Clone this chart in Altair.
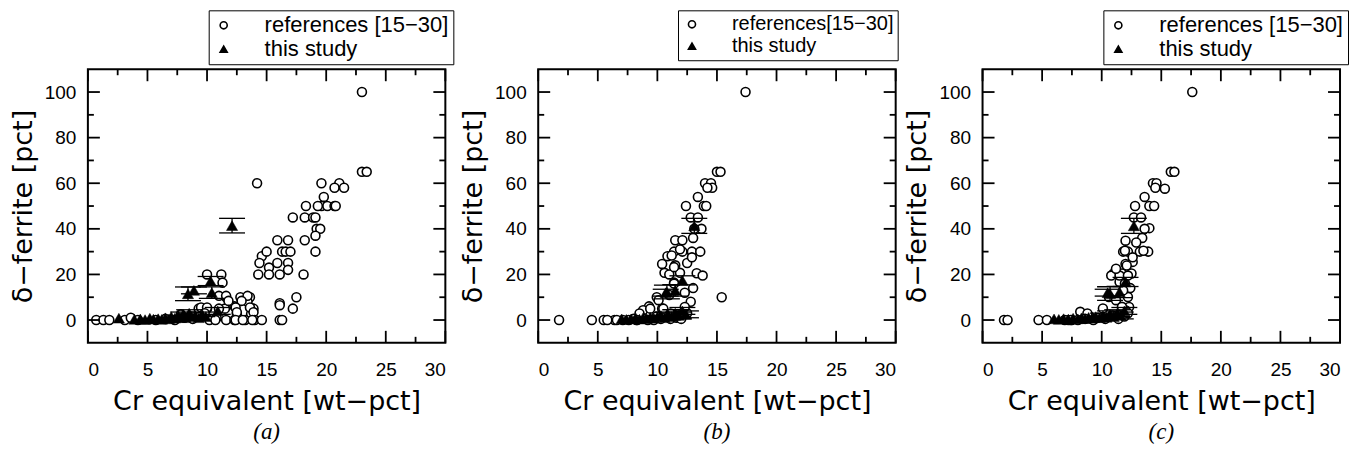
import altair as alt
import pandas as pd

# ---------------- data ----------------
# panel (a)
ref_a_x = [23.0, 23.0, 23.4, 14.2, 19.6, 21.1, 20.7, 21.5, 19.8, 19.6, 20.1, 20.7, 20.8, 18.3, 19.3,
           17.2, 18.2, 18.9, 19.1, 19.2, 19.5, 15.9, 16.8, 18.2, 19.1, 14.6, 15.0, 16.3, 16.6, 17.0,
           19.1, 14.4, 15.2, 15.9, 16.8, 16.8, 14.3, 15.2, 16.1, 18.1, 10.0, 11.2, 11.3, 16.1, 17.5,
           17.2, 16.1, 16.3, 12.8, 13.6, 13.4, 12.3, 11.6, 13.9, 13.7, 12.5, 11.5, 10.0, 9.3, 11.0,
           11.0, 11.6, 11.8, 13.4, 12.9, 12.4, 13.6, 13.9, 12.5, 9.5, 10.0, 11.6, 12.3, 13.2, 14.0,
           14.6, 16.1, 3.1, 0.7, 1.3, 1.8, 3.6, 4.2, 5.7, 6.5, 7.3, 8.1, 8.8, 9.4, 10.2, 10.8, 10.7,
           12.4, 13.0, 13.8, 7.8, 9.8]
ref_a_y = [100, 65, 65, 60, 60, 60, 58, 58, 54, 50, 50, 50, 50, 50, 50,
           45, 45, 45, 45, 40, 40, 35, 35, 35, 37, 28, 30, 30, 30, 30,
           30, 25, 23, 25, 25, 22, 20, 20, 20, 20, 20, 20, 16.4, 7.4, 10,
           5, 0, 0, 10, 10, 8, 6, 10, 5, 2.7, 2.7, 5, 5, 5, 5,
           10.6, 10.6, 8.4, 10.6, 8.4, 5.5, 5.5, 3.4, 3.4, 5.5, 5.5, 0, 0, 0, 0,
           0, 6.5, 0, 0, 0, 0, 1, 0, 0, 0.5, 0, 1, 0.5, 1.5, 0, 1, 0,
           0, 0, 0, 2.5, 3]
st_a_x = [2.6, 3.9, 4.4, 4.8, 5.2, 5.5, 5.9, 6.2, 6.5, 6.8, 7.0, 7.3, 7.6, 7.8, 8.0, 8.2, 8.5,
          8.7, 9.0, 9.3, 9.6, 9.9, 10.9, 8.4, 8.9, 10.4, 10.3, 12.1]
st_a_y = [0.8, 0.3, 0.5, 0.2, 0.8, 0.4, 0.6, 0.3, 1.0, 0.5, 1.5, 0.8, 2.0, 1.2, 2.5, 1.0, 3.0,
          1.5, 2.0, 1.0, 2.5, 1.5, 4.0, 11.5, 13.0, 12.0, 17.1, 41.4]
st_a_e = [0, 0, 0, 0, 0, 0, 0, 0, 0, 0, 0, 0, 0, 0, 1.0, 0, 1.5,
          0, 0, 0, 1.0, 0, 1.5, 3.0, 1.5, 2.5, 2.0, 3.2]

# panel (b)
ref_b_x = [17.4, 15.0, 15.3, 14.0, 14.5, 14.6, 14.2, 13.4, 12.4, 13.9, 14.1, 12.8, 13.4, 13.7, 13.1,
           13.0, 11.5, 12.1, 10.85, 11.4, 12.1, 12.9, 13.6, 11.5, 12.5, 10.6, 11.0, 11.9, 13.3, 11.4,
           15.4, 9.95, 12.8, 9.3, 8.8, 10.4, 1.75, 4.5, 5.5, 6.4, 7.1, 8.25, 7.6, 8.0, 8.7, 9.2,
           9.9, 10.3, 10.7, 11.1, 11.6, 12.0, 12.5, 10.1, 9.4, 10.5, 11.1, 11.8, 12.3, 8.5, 5.8,
           6.6, 8.3, 9.7, 11.2, 11.9, 12.9, 10.4, 11.4, 13.8, 11.4, 12.3, 11.0, 13.0]
ref_b_y = [100, 65, 65, 60, 60, 58, 58, 54, 50, 50, 50, 45, 45, 40, 40,
           36, 35, 35, 28, 30, 30, 30, 30, 24, 25, 20.7, 20, 20.7, 20.5, 16.4,
           10, 10, 8, 6, 4.3, 5, 0, 0, 0, 0, 0, 0, 0, 0.5, 1, 0,
           1.5, 0.5, 2, 0.5, 1, 0.5, 3, 8.7, 5, 5, 2.9, 2, 5.7, 2.9, 0,
           0, 0, 0, 28.3, 31, 27.5, 24.6, 23.2, 19.5, 16, 12, 11, 14]
st_b_x = [7.0, 7.4, 7.8, 8.2, 8.5, 8.8, 9.1, 9.4, 9.7, 10.0, 10.3, 10.6, 10.9, 11.2, 11.5, 11.8,
          12.1, 12.4, 10.8, 11.5, 10.7, 12.1, 13.1]
st_b_y = [0.5, 0.3, 0.5, 0.8, 0.4, 1.0, 0.6, 1.2, 0.8, 1.5, 2.0, 1.0, 2.5, 1.5, 3.0, 2.0,
          4.0, 2.5, 12.3, 13.0, 12.0, 17.4, 41.3]
st_b_e = [0, 0, 0, 0, 0, 0, 0, 0, 0, 0, 0, 0, 1.0, 0, 1.5, 1.5,
          1.5, 1.5, 3.0, 2.5, 1.5, 2.0, 3.3]

# panel (c)
ref_c_x = [17.6, 15.8, 16.1, 14.3, 14.6, 14.5, 15.3, 13.6, 12.8, 14.0, 14.4, 12.7, 13.3, 14.0, 13.6,
           12.0, 13.4, 11.8, 13.2, 13.9, 12.2, 12.0, 12.6, 11.0, 11.7, 12.5, 11.5, 12.2, 12.3, 12.0,
           1.8, 2.1, 4.7, 5.4, 7.2, 7.5, 8.5, 9.0, 8.2, 8.8, 6.9, 7.4, 8.0, 8.6, 9.3, 9.7, 10.1,
           10.3, 10.6, 10.9, 11.2, 11.4, 11.7, 11.9, 12.2, 11.95, 13.5, 12.6, 12.1, 10.8, 11.5,
           12.2, 11.95, 12.4, 11.8, 11.2, 12.9]
ref_c_y = [100, 65, 65, 60, 60, 58, 57.6, 54, 50, 50, 50, 45, 45, 40.3, 40,
           34.8, 36, 30, 30, 30, 30, 24.6, 25.5, 20.4, 20.4, 20.4, 16.7, 10.1, 5.7, 4.3,
           0, 0, 0, 0, 0, 0, 1.5, 1.5, 3.6, 2.9, 0, 0, 0, 0.5, 0, 1, 5.1,
           0.5, 10.1, 2, 8.7, 0.5, 5.8, 1.5, 3, 30.4, 30.4, 27.5, 23.9, 19.5, 19.5,
           19.5, 16, 14, 13, 22.5, 34]
st_c_x = [6.0, 6.4, 6.8, 7.2, 7.6, 8.0, 8.3, 8.6, 8.9, 9.2, 9.5, 9.8, 10.1, 10.4, 10.7, 11.0,
          11.3, 11.6, 11.9, 10.7, 11.5, 10.5, 12.0, 12.7]
st_c_y = [0.5, 0.3, 0.6, 0.4, 0.8, 0.5, 1.0, 0.6, 1.2, 0.8, 1.5, 1.0, 2.0, 1.2, 2.5, 1.5,
          3.0, 2.0, 4.0, 11.6, 12.3, 12.0, 16.7, 41.3]
st_c_e = [0, 0, 0, 0, 0, 0, 0, 0, 0, 0, 0, 0, 1.0, 0, 1.5, 0,
          1.5, 1.5, 1.5, 3.0, 2.5, 1.5, 2.0, 3.3]

x_major = [0, 5, 10, 15, 20, 25, 30]
x_minor = [2.5, 7.5, 12.5, 17.5, 22.5, 27.5]
y_major = [0, 20, 40, 60, 80, 100]
y_minor = [10, 30, 50, 70, 90]
X_DOM = [0, 30]
Y_DOM = [-10, 110]

STUDY = "this study"
W, H = 358, 274
SANS = "Liberation Sans"
WIDE = "DejaVu Sans"
MAJ_PX, MIN_PX = 12, 6  # inward tick lengths in pixels


def panel(rx, ry, sx, sy, se, ref_label, caption, leg_x, leg_fs):
    ref = pd.DataFrame({"x": rx, "y": ry, "series": ref_label})
    st = pd.DataFrame({"x": sx, "y": sy, "err": se, "series": STUDY})
    st["lo"] = st["y"] - st["err"]
    st["hi"] = st["y"] + st["err"]
    eb = st[st["err"] > 0]

    xs = alt.Scale(domain=X_DOM, nice=False, zero=False)
    ys = alt.Scale(domain=Y_DOM, nice=False, zero=False)
    ux = (X_DOM[1] - X_DOM[0]) / W   # data units per pixel
    uy = (Y_DOM[1] - Y_DOM[0]) / H

    x_axis = alt.Axis(orient="bottom", values=x_major, ticks=False, tickSize=0, domain=False,
                      grid=False, labelFont=SANS, labelFontSize=19, labelColor="black",
                      labelPadding=18, labelFlush=True,
                      title="Cr equivalent [wt\u2212pct]", titleFont=WIDE, titleFontSize=27,
                      titleFontWeight="normal", titleColor="black", titlePadding=9)
    y_axis = alt.Axis(orient="left", values=y_major, ticks=False, tickSize=0, domain=False,
                      grid=False, labelFont=SANS, labelFontSize=19, labelColor="black",
                      labelPadding=12,
                      title="\u03b4\u2212ferrite [pct]", titleFont=WIDE, titleFontSize=27,
                      titleFontWeight="normal", titleColor="black", titlePadding=7)

    dom = [ref_label, STUDY]
    leg = alt.Legend(title=None, orient="none", legendX=leg_x, legendY=-59,
                     labelFont=SANS, labelFontSize=leg_fs, labelColor="black", labelLimit=400,
                     symbolSize=50, symbolStrokeWidth=1.6,
                     strokeColor="black", fillColor="white",
                     padding=4, labelOffset=30, rowPadding=2, cornerRadius=0)
    shp = alt.Shape("series:N", scale=alt.Scale(domain=dom, range=["circle", "triangle-up"]), legend=leg)
    fil = alt.Fill("series:N", scale=alt.Scale(domain=dom, range=["white", "black"]), legend=leg)
    stk = alt.Stroke("series:N", scale=alt.Scale(domain=dom, range=["black", "black"]), legend=leg)

    # inward frame ticks, positioned through the scales
    def xticks(vals, edge, length_px, direction):
        df = pd.DataFrame({"v": vals, "a": edge, "b": edge + direction * length_px * uy})
        return alt.Chart(df).mark_rule(color="black", strokeWidth=1.8).encode(
            x=alt.X("v:Q", scale=xs, axis=None), y=alt.Y("a:Q", scale=ys, axis=None), y2="b:Q")

    def yticks(vals, edge, length_px, direction):
        df = pd.DataFrame({"v": vals, "a": edge, "b": edge + direction * length_px * ux})
        return alt.Chart(df).mark_rule(color="black", strokeWidth=1.8).encode(
            y=alt.Y("v:Q", scale=ys, axis=None), x=alt.X("a:Q", scale=xs, axis=None), x2="b:Q")

    ticks = [xticks(x_major, Y_DOM[0], MAJ_PX, 1), xticks(x_minor, Y_DOM[0], MIN_PX, 1),
             xticks(x_major, Y_DOM[1], MAJ_PX, -1), xticks(x_minor, Y_DOM[1], MIN_PX, -1),
             yticks(y_major, X_DOM[0], MAJ_PX, 1), yticks(y_minor, X_DOM[0], MIN_PX, 1),
             yticks(y_major, X_DOM[1], MAJ_PX, -1), yticks(y_minor, X_DOM[1], MIN_PX, -1)]

    circles = alt.Chart(ref).mark_point(filled=True, strokeWidth=1.6, size=80, opacity=1).encode(
        x=alt.X("x:Q", scale=xs, axis=x_axis), y=alt.Y("y:Q", scale=ys, axis=y_axis),
        shape=shp, fill=fil, stroke=stk)
    tris = alt.Chart(st).mark_point(filled=True, strokeWidth=0.5, size=125, opacity=1).encode(
        x=alt.X("x:Q", scale=xs, axis=None), y=alt.Y("y:Q", scale=ys, axis=None),
        shape=shp, fill=fil, stroke=stk)
    bars = alt.Chart(eb).mark_rule(color="black", strokeWidth=1.3).encode(
        x=alt.X("x:Q", scale=xs, axis=None), y=alt.Y("lo:Q", scale=ys, axis=None), y2="hi:Q")
    cap_lo = alt.Chart(eb).mark_tick(orient="horizontal", size=26, thickness=1.3,
                                     color="black", opacity=1).encode(
        x=alt.X("x:Q", scale=xs, axis=None), y=alt.Y("lo:Q", scale=ys, axis=None))
    cap_hi = alt.Chart(eb).mark_tick(orient="horizontal", size=26, thickness=1.3,
                                     color="black", opacity=1).encode(
        x=alt.X("x:Q", scale=xs, axis=None), y=alt.Y("hi:Q", scale=ys, axis=None))

    return alt.layer(circles, tris, bars, cap_lo, cap_hi, *ticks).resolve_axis(
        x="independent", y="independent").properties(
        width=W, height=H,
        title=alt.TitleParams(caption, orient="bottom", anchor="middle", frame="group",
                              font="Liberation Serif", fontStyle="italic", fontSize=23,
                              fontWeight="normal", color="black", offset=6))


pa = panel(ref_a_x, ref_a_y, st_a_x, st_a_y, st_a_e, "references [15\u221230]", "(a)", 121, 22)
pb = panel(ref_b_x, ref_b_y, st_b_x, st_b_y, st_b_e, "references[15\u221230]", "(b)", 140, 20)
pc = panel(ref_c_x, ref_c_y, st_c_x, st_c_y, st_c_e, "references [15\u221230]", "(c)", 121, 22)

chart = alt.hconcat(pa, pb, pc, spacing=3).resolve_scale(
    x="independent", y="independent", shape="independent", fill="independent",
    stroke="independent"
).resolve_legend(shape="independent", fill="independent", stroke="independent").properties(
    padding={"left": 0, "top": 0, "right": 3, "bottom": 0}
).configure_view(stroke="black", strokeWidth=2)

chart.save("out.html", embed_options={"renderer": "svg", "actions": False})
